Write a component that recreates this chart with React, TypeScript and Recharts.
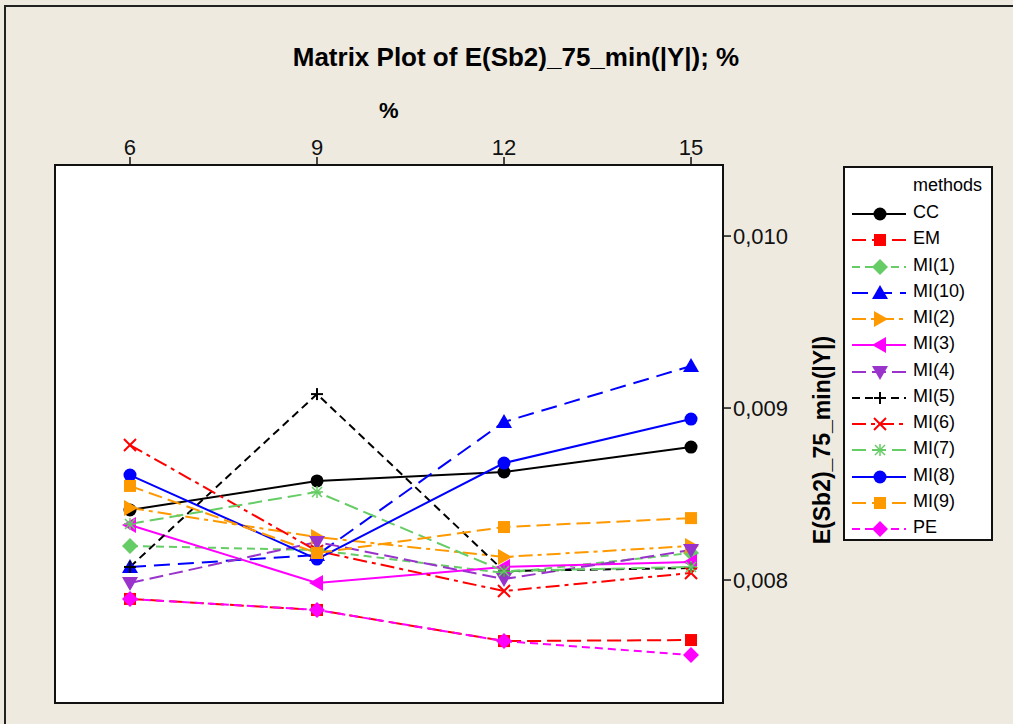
import React from "react";
import { LineChart, Line, XAxis, YAxis, CartesianGrid } from "recharts";

const percents = [6, 9, 12, 15];
const xTicks = [6, 9, 12, 15];
const yTicks = [0.008, 0.009, 0.01];

const cc = [0.008407, 0.008576, 0.008628, 0.008773];
const em = [0.00789, 0.007826, 0.007645, 0.007651];
const mi1 = [0.008198, 0.008174, 0.008041, 0.008157];
const mi10 = [0.008076, 0.008145, 0.008919, 0.009244];
const mi2 = [0.008419, 0.00825, 0.008134, 0.008198];
const mi3 = [0.00832, 0.007983, 0.008076, 0.008105];
const mi4 = [0.007983, 0.008221, 0.008006, 0.008174];
const mi5 = [0.008076, 0.009081, 0.008052, 0.00807];
const mi6 = [0.008785, 0.008169, 0.007936, 0.008041];
const mi7 = [0.008326, 0.008512, 0.008052, 0.008076];
const mi8 = [0.00861, 0.008122, 0.00868, 0.008936];
const mi9 = [0.008547, 0.008157, 0.008308, 0.00836];
const pe = [0.00789, 0.007826, 0.007645, 0.007564];

type Shape =
  | "circle" | "square" | "diamond" | "triUp" | "triRight" | "triLeft"
  | "triDown" | "plus" | "cross" | "star";

const series: { name: string; values: number[]; color: string; shape: Shape; dash?: string }[] = [
  { name: "CC", values: cc, color: "#000000", shape: "circle" },
  { name: "EM", values: em, color: "#FF0000", shape: "square", dash: "14 6" },
  { name: "MI(1)", values: mi1, color: "#66CC66", shape: "diamond", dash: "8 5" },
  { name: "MI(10)", values: mi10, color: "#0000FF", shape: "triUp", dash: "16 8" },
  { name: "MI(2)", values: mi2, color: "#FF9900", shape: "triRight", dash: "14 5 4 5" },
  { name: "MI(3)", values: mi3, color: "#FF00FF", shape: "triLeft" },
  { name: "MI(4)", values: mi4, color: "#9933CC", shape: "triDown", dash: "14 6" },
  { name: "MI(5)", values: mi5, color: "#000000", shape: "plus", dash: "8 5" },
  { name: "MI(6)", values: mi6, color: "#FF0000", shape: "cross", dash: "14 5 4 5" },
  { name: "MI(7)", values: mi7, color: "#66CC66", shape: "star", dash: "14 6" },
  { name: "MI(8)", values: mi8, color: "#0000FF", shape: "circle" },
  { name: "MI(9)", values: mi9, color: "#FF9900", shape: "square", dash: "14 6" },
  { name: "PE", values: pe, color: "#FF00FF", shape: "diamond", dash: "8 5" },
];

const data = percents.map((p, i) => {
  const row: Record<string, number> = { pct: p };
  series.forEach((s) => (row[s.name] = s.values[i]));
  return row;
});

function Marker({ shape, color, cx, cy }: { shape: Shape; color: string; cx: number; cy: number }) {
  const pts = (arr: number[][]) => arr.map(([x, y]) => `${cx + x},${cy + y}`).join(" ");
  switch (shape) {
    case "circle":
      return <circle cx={cx} cy={cy} r={6.5} fill={color} />;
    case "square":
      return <rect x={cx - 6} y={cy - 6} width={12} height={12} fill={color} />;
    case "diamond":
      return <polygon points={pts([[0, -8], [8, 0], [0, 8], [-8, 0]])} fill={color} />;
    case "triUp":
      return <polygon points={pts([[0, -8], [8, 6], [-8, 6]])} fill={color} />;
    case "triDown":
      return <polygon points={pts([[0, 8], [8, -6], [-8, -6]])} fill={color} />;
    case "triRight":
      return <polygon points={pts([[8, 0], [-6, -8], [-6, 8]])} fill={color} />;
    case "triLeft":
      return <polygon points={pts([[-8, 0], [6, -8], [6, 8]])} fill={color} />;
    case "plus":
      return (
        <g stroke={color} strokeWidth={2}>
          <line x1={cx - 6} y1={cy} x2={cx + 6} y2={cy} />
          <line x1={cx} y1={cy - 6} x2={cx} y2={cy + 6} />
        </g>
      );
    case "cross":
      return (
        <g stroke={color} strokeWidth={2}>
          <line x1={cx - 6} y1={cy - 6} x2={cx + 6} y2={cy + 6} />
          <line x1={cx - 6} y1={cy + 6} x2={cx + 6} y2={cy - 6} />
        </g>
      );
    default:
      return (
        <g stroke={color} strokeWidth={1.5}>
          <line x1={cx - 6} y1={cy} x2={cx + 6} y2={cy} />
          <line x1={cx} y1={cy - 6} x2={cx} y2={cy + 6} />
          <line x1={cx - 5} y1={cy - 5} x2={cx + 5} y2={cy + 5} />
          <line x1={cx - 5} y1={cy + 5} x2={cx + 5} y2={cy - 5} />
        </g>
      );
  }
}

const fmt = (v: number) => v.toFixed(3).replace(".", ",");

function LegendBox() {
  return (
    <div
      style={{
        position: "absolute",
        left: 843,
        top: 166,
        width: 150,
        height: 375,
        border: "2px solid #111",
        background: "#fff",
        fontSize: 18,
        boxSizing: "border-box",
      }}
    >
      <div style={{ position: "absolute", left: 68, top: 7 }}>methods</div>
      {series.map((s, i) => (
        <div key={s.name} style={{ position: "absolute", left: 0, top: 33 + i * 26.25, height: 26 }}>
          <svg width={66} height={26} style={{ position: "absolute", left: 4, top: 0 }}>
            <line x1={3} y1={13} x2={57} y2={13} stroke={s.color} strokeWidth={2} strokeDasharray={s.dash} />
            <Marker shape={s.shape} color={s.color} cx={31} cy={13} />
          </svg>
          <span style={{ position: "absolute", left: 68, top: 1, whiteSpace: "nowrap" }}>{s.name}</span>
        </div>
      ))}
    </div>
  );
}

export default function App() {
  const font = "Arial, 'Liberation Sans', sans-serif";
  return (
    <div
      style={{
        position: "absolute",
        left: 0,
        top: 0,
        width: 1013,
        height: 724,
        background: "#EEEAE0",
        fontFamily: font,
        overflow: "hidden",
      }}
    >
      <div
        style={{
          position: "absolute",
          left: 4,
          top: 5,
          width: 1020,
          height: 730,
          borderLeft: "2px solid #222",
          borderTop: "2px solid #222",
        }}
      />
      <div
        style={{
          position: "absolute",
          left: 0,
          width: 1032,
          top: 42,
          textAlign: "center",
          fontSize: 26,
          fontWeight: "bold",
        }}
      >
        Matrix Plot of E(Sb2)_75_min(|Y|); %
      </div>
      <div style={{ position: "absolute", left: 379, top: 98, fontSize: 22, fontWeight: "bold" }}>%</div>
      <div
        style={{
          position: "absolute",
          left: 822,
          top: 440,
          transform: "translate(-50%, -50%) rotate(-90deg)",
          fontSize: 23,
          fontWeight: "bold",
          whiteSpace: "nowrap",
        }}
      >
        E(Sb2)_75_min(|Y|)
      </div>
      <div style={{ position: "absolute", left: 0, top: 0 }}>
        <LineChart width={1013} height={724} data={data} margin={{ top: 125, right: 210, bottom: 21, left: 55 }}>
          <CartesianGrid fill="#ffffff" horizontal={false} vertical={false} />
          <XAxis
            dataKey="pct"
            type="number"
            orientation="top"
            domain={[4.797, 15.513]}
            ticks={xTicks}
            height={40}
            axisLine={{ stroke: "#111", strokeWidth: 2 }}
            tickLine={{ stroke: "#111", strokeWidth: 1.5 }}
            tickSize={8}
            tick={{ fill: "#111", fontSize: 22, fontFamily: font }}
            allowDataOverflow
          />
          <YAxis
            orientation="right"
            type="number"
            domain={[0.007285, 0.010413]}
            ticks={yTicks}
            width={80}
            tickFormatter={fmt}
            axisLine={{ stroke: "#111", strokeWidth: 2 }}
            tickLine={{ stroke: "#111", strokeWidth: 1.5 }}
            tickSize={8}
            tick={{ fill: "#111", fontSize: 22, fontFamily: font }}
            allowDataOverflow
          />
          {series.map((s) => (
            <Line
              key={s.name}
              dataKey={s.name}
              stroke={s.color}
              strokeWidth={2}
              strokeDasharray={s.dash}
              isAnimationActive={false}
              dot={(p: any) => (
                <Marker key={`${s.name}-${p.index}`} shape={s.shape} color={s.color} cx={p.cx} cy={p.cy} />
              )}
              activeDot={false}
            />
          ))}
        </LineChart>
      </div>
      {/* plot frame */}
      <div
        style={{
          position: "absolute",
          left: 54,
          top: 164,
          width: 670,
          height: 540,
          border: "2px solid #111",
          boxSizing: "border-box",
          pointerEvents: "none",
        }}
      />
      <LegendBox />
    </div>
  );
}
